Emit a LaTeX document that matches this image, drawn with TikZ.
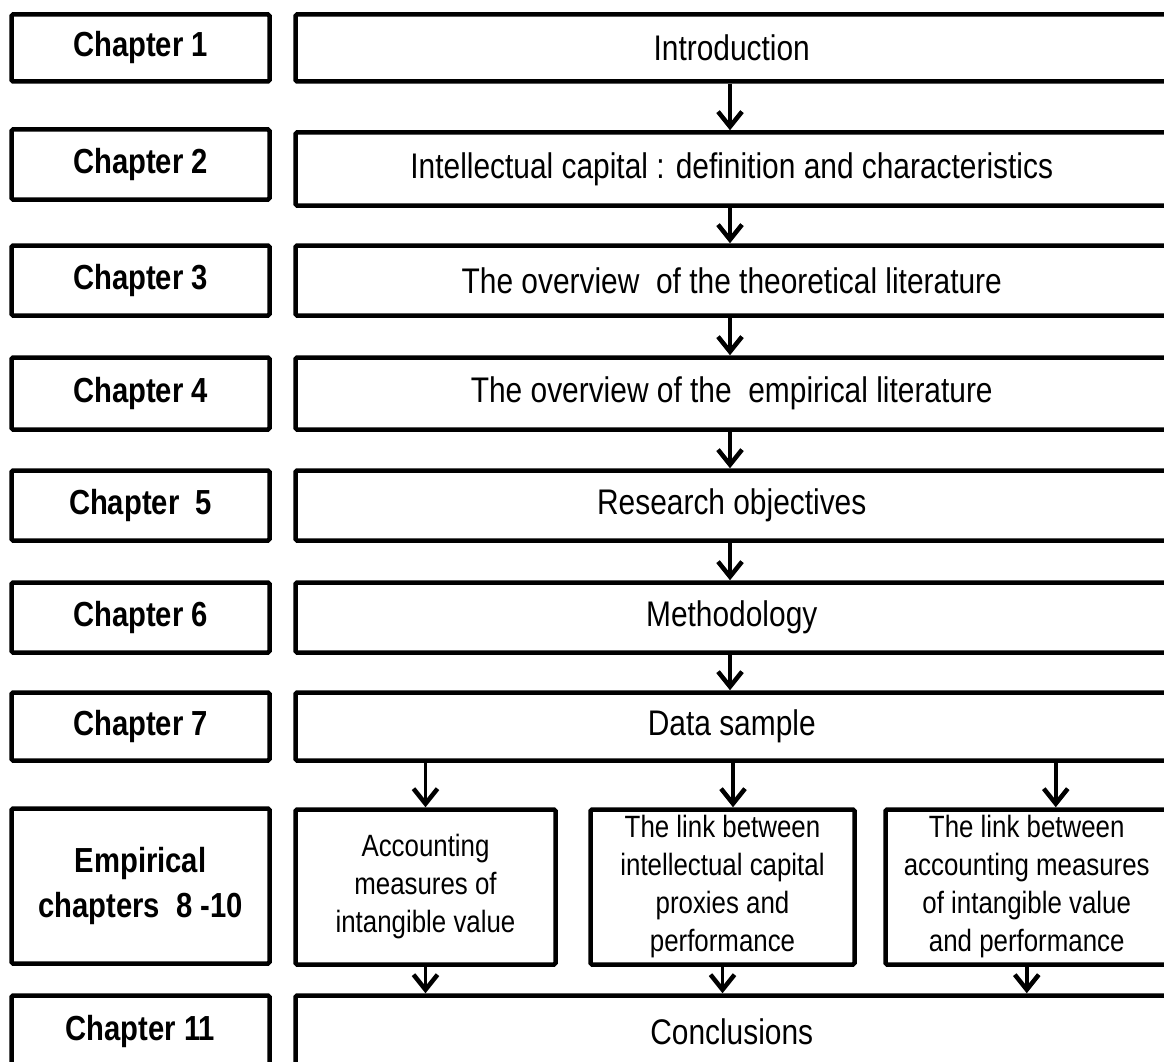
\documentclass[tikz,border=0pt]{standalone}
\usepackage{fontspec}
\setmainfont{Liberation Sans}[FakeStretch=0.84]
\usetikzlibrary{arrows.meta}
\begin{document}
\begin{tikzpicture}[x=1pt,y=-1pt,
  box/.style={draw=black,line width=4.5pt,rounded corners=1.5pt,inner sep=0pt,align=center},
  chap/.style={box,minimum width=258pt,font=\fontsize{34.8}{42}\selectfont\bfseries},
  wide/.style={box,minimum width=872.5pt,font=\fontsize{35.6}{42}\selectfont},
  mid/.style={box,minimum height=155pt,font=\fontsize{30.8}{38}\selectfont},
  arr/.style={line width=3.5pt,-{Straight Barb[length=15pt,width=24pt,line width=4.5pt]}}]
\useasboundingbox (0,0) rectangle (1164,1062);
% left column
\node[chap,minimum height=67pt] (c1) at (140.5,48) {Chapter 1};
\node[chap,minimum height=70pt] (c2) at (140.5,164.5) {Chapter 2};
\node[chap,minimum height=70pt] (c3) at (140.5,280.5) {Chapter 3};
\node[chap,minimum height=72pt] (c4) at (140.5,393.5) {Chapter 4};
\node[chap,minimum height=70pt] (c5) at (140.5,505.5) {Chapter~~5};
\node[chap,minimum height=70pt] (c6) at (140.5,617.5) {Chapter 6};
\node[chap,minimum height=68pt] (c7) at (140.5,726.5) {Chapter 7};
\node[chap,minimum height=155pt,font=\fontsize{34.8}{45}\selectfont\bfseries] (c8) at (140.5,886) {Empirical\\chapters~~8 -10};
\node[chap,minimum height=72pt] (c11) at (140.5,1031.5) {Chapter 11};
% right column
\node[wide,minimum height=67pt] (r1) at (731.75,48) {Introduction};
\node[wide,minimum height=73pt] (r2) at (731.75,169) {Intellectual capital : definition and characteristics};
\node[wide,minimum height=70pt] (r3) at (731.75,280.5) {The overview~~of the theoretical literature};
\node[wide,minimum height=72pt] (r4) at (731.75,393.5) {The overview of the~~empirical literature};
\node[wide,minimum height=70pt] (r5) at (731.75,505.5) {Research objectives};
\node[wide,minimum height=70pt] (r6) at (731.75,617.5) {Methodology};
\node[wide,minimum height=68pt] (r7) at (731.75,726.5) {Data sample};
\node[mid,minimum width=260pt] (m1) at (425.5,887) {Accounting\\measures of\\intangible value};
\node[mid,minimum width=264pt] (m2) at (722.5,887) {The link between\\intellectual capital\\proxies and\\performance};
\node[mid,minimum width=282.5pt] (m3) at (1026.75,887) {The link between\\accounting measures\\of intangible value\\and performance};
\node[wide,minimum height=72pt] (r11) at (731.75,1031.5) {Conclusions};
% arrows
\foreach \a/\b in {r1/r2,r2/r3,r3/r4,r4/r5,r5/r6,r6/r7}
  \draw[arr] ([xshift=-1.75pt]\a.south) -- ([xshift=-1.75pt]\b.north);
\draw[arr] (m1.north |- r7.south) -- (m1.north);
\draw[arr] ([xshift=10.5pt]m2.north |- r7.south) -- ([xshift=10.5pt]m2.north);
\draw[arr] ([xshift=29pt]m3.north |- r7.south) -- ([xshift=29pt]m3.north);
\draw[arr] (m1.south) -- (m1.south |- r11.north);
\draw[arr] (m2.south) -- (m2.south |- r11.north);
\draw[arr] (m3.south) -- (m3.south |- r11.north);
\end{tikzpicture}
\end{document}
